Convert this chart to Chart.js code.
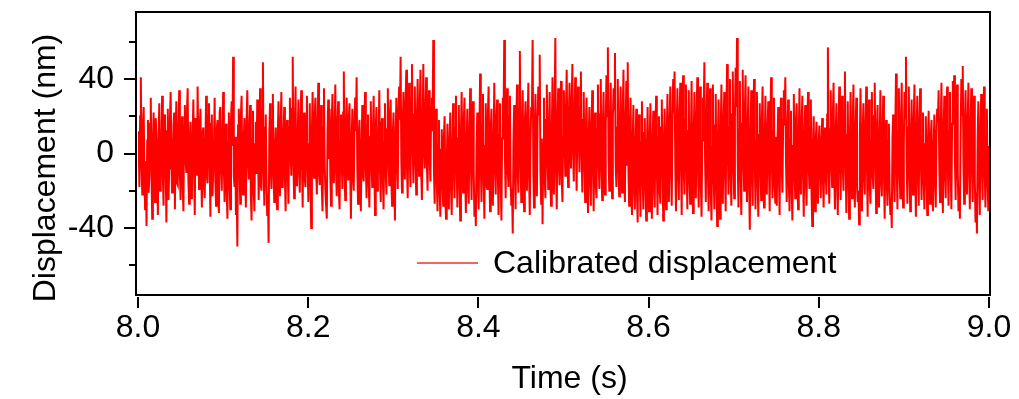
<!DOCTYPE html>
<html>
<head>
    <title>Calibrated displacement</title>
    <script src="https://cdn.jsdelivr.net/npm/chart.js"></script>
    <style>
        body { margin: 0; background: #fff; }
    </style>
</head>
<body>
    <canvas id="dispChart" width="1019" height="399"></canvas>

    <script>
        // displacement in nm in four quarters of the 8.0 - 9.0 s window
        const dispA = [
            12,3,-18,20,41,-6,-22,14,25,-11,-30,-4,-39,7,18,-21,-12,16,30,-9,-35,5,22,-15,-26,19,8,-2,-33,10,
            27,-20,-14,6,31,-13,-28,21,19,-8,-37,12,24,-25,-8,18,33,1,-21,-7,15,22,-30,9,28,-16,-17,13,34,-11,
            -25,4,20,-17,-31,15,26,-3,-10,23,35,-14,-27,8,17,-24,-22,10,29,-6,-33,19,11,-12,36,2,-19,14,24,-9,
            -29,11,14,-18,-24,7,31,-12,-16,20,27,-5,-34,16,21,-23,-9,3,30,-15,-28,13,18,-10,-32,22,25,-7,-20,9,
            33,-8,-26,12,16,-21,-35,6,22,-16,-30,18,28,4,52,-12,-18,9,-33,-20,-50,15,24,-3,-27,21,31,-14,-22,8,
            19,-10,-29,17,34,-4,-14,12,26,-22,-36,8,23,-19,-31,5,17,-11,29,13,-25,-6,35,-17,-20,24,49,-9,-28,14,
            21,-15,-33,-22,-48,10,27,-7,-19,18,32,-12,-26,3,14,-20,-30,11,28,-5,-23,16,33,-18,-17,9,25,-13,-31,6,
            18,-9,-27,14,30,2,-12,24,52,-6,-24,13,36,-17,-15,8,29,-11,-21,19,34,-4,-29,10,22,-14,-18,20,31,-7,
            -26,5,27,-16,-40,12,33,-2,-13,21,30,-9,-22,15,38,-11,-17,7,26,-19,-31,14,35,-6,-20,-28,-35,11,29,-3,
            24,-12,-28,18,32,-5,-16,13,37,-9,-23,16,28,-20,-30,7,21,-4,-19,22,44,-11,-25,14,30,-2,-14,19,27,-10
        ];
        const dispB = [
            -35,6,24,-13,-20,17,30,12,41,-8,-27,10,18,-19,-31,4,26,-12,-15,20,33,-7,-24,15,21,-16,-29,9,28,-5,
            -18,11,31,-4,-33,14,25,-20,-12,8,34,-10,-26,16,19,-14,-30,6,27,-8,-22,13,35,-3,-17,21,29,-15,-28,10,
            22,-12,-36,9,30,-5,-19,24,36,18,52,-3,-21,15,33,2,-14,27,45,-8,-24,20,38,-6,-18,30,48,4,-16,21,
            36,-4,-22,19,40,8,-12,26,45,-9,-25,14,48,3,-8,22,41,-6,-20,17,34,-2,-15,25,30,12,61,-10,-27,16,
            24,-14,-31,5,18,-20,-34,2,13,-16,-28,9,20,-24,-35,-6,16,-11,-30,7,22,-18,-33,3,27,-9,-24,14,31,-7,
            -29,8,26,-15,-36,11,33,-6,-21,17,30,-13,-32,5,24,-18,-27,12,35,-4,-25,19,28,-10,-34,-22,-39,3,22,-16,
            -30,9,43,-7,-26,15,32,-12,-35,4,27,-17,-19,21,36,-8,-31,13,24,-14,-28,6,38,-5,-22,18,29,-11,-33,10,
            27,-13,-36,8,30,16,61,-2,-24,12,35,-9,-18,20,31,-15,-28,-19,-43,7,26,-6,-30,14,37,-10,-21,24,55,-4,
            -26,11,34,-8,-31,16,28,-5,-20,19,38,-12,-33,6,25,22,61,-9,-29,13,32,-4,-23,17,36,21,53,-10,-27,8,
            -38,5,30,-12,-24,18,37,-3,-19,14,33,-16,-28,11,41,-7,-22,26,62,-9,-30,15,35,-6,-17,20,39,-13,-26,9
        ];
        const dispC = [
            34,10,-12,22,45,4,-18,19,38,13,-8,27,48,2,-15,21,41,6,-20,15,36,11,-10,25,44,1,-21,18,33,-5,
            -26,12,30,-9,-32,8,25,-14,-28,15,34,-6,-31,10,22,-17,-24,13,37,-2,-19,21,40,-8,-25,16,33,-11,-22,14,
            42,20,57,-3,-20,11,38,-7,-24,18,35,24,54,-5,-18,14,40,-9,-23,17,36,-4,-21,22,45,-12,-26,15,39,-6,
            49,-10,-28,13,30,-16,-33,7,26,-19,-30,4,24,-21,-37,9,21,-14,-34,6,28,-12,-30,11,19,-18,-36,3,25,-15,
            -31,8,27,-13,-35,5,23,-17,-29,12,31,-6,-33,9,20,-20,-27,14,29,-8,-36,3,24,-15,-30,10,32,-4,-26,16,
            36,-9,-28,17,40,22,44,-6,-31,13,35,-11,-25,20,38,-3,-33,15,42,-10,-22,18,37,-7,-30,12,34,-14,-27,8,
            39,-12,-32,10,33,-5,-24,19,41,-8,-29,14,36,-16,-34,7,30,23,49,-4,-26,16,38,-11,-31,9,35,-20,-36,4,
            37,-8,-30,15,32,-18,-39,6,29,-13,-35,10,37,-5,-27,17,33,-9,-31,20,48,2,-22,14,40,-11,-28,21,44,-6,
            -24,18,46,25,62,-4,-29,13,39,-10,-33,16,45,-2,-20,22,42,-7,-26,12,36,-17,-41,5,34,-9,-28,19,40,-3,
            -30,7,33,-14,-34,10,27,-6,-25,17,36,-11,-29,4,31,-15,-22,13,28,-8,-31,16,41,-3,-24,12,30,-17,-27,9
        ];
        const dispD = [
            -28,6,25,-12,-33,14,30,-7,-21,18,34,15,41,-5,-26,11,29,-16,-31,8,23,-20,-36,4,32,-9,-24,17,27,-13,
            -30,10,35,-4,-22,16,31,-11,-34,7,26,-15,-28,12,33,-6,-19,14,29,-22,-39,3,20,-13,-31,8,17,-10,-27,5,
            15,-9,-24,6,19,-14,-29,2,14,-12,-22,21,57,-8,-27,13,34,-5,-18,20,38,-11,-30,9,27,-16,-33,12,36,-4,
            -25,14,31,-7,-20,23,44,-3,-32,10,28,-15,-35,6,33,-12,-24,16,37,-9,-29,11,30,-17,-26,-20,-38,8,35,-6,
            -31,9,27,-13,-22,15,36,-5,-34,11,29,-18,-27,7,33,-10,-19,20,38,-4,-32,12,26,-14,-29,8,34,-16,-23,13,
            31,-11,-35,4,18,-16,-28,7,16,-19,-33,-24,-40,9,21,-13,-26,15,43,-6,-30,12,35,-8,-24,17,38,-10,-29,6,
            33,19,52,-5,-27,14,36,-9,-31,8,29,-14,-22,18,37,-7,-34,10,31,-12,-28,16,35,-3,-25,9,22,-15,-30,5,
            20,-12,-33,6,23,-10,-27,9,18,-15,-31,3,21,-14,-29,11,24,17,34,-8,-26,13,38,-5,-32,10,31,-11,-24,14,
            36,-7,-28,12,33,-9,-30,16,39,24,42,-4,-25,13,37,-10,-31,-18,-35,8,40,21,47,-6,-27,15,34,-12,-22,17,
            38,-9,-30,13,35,-5,-26,16,31,-14,-37,-21,-43,7,28,-11,-33,12,32,-6,-25,18,36,-10,-29,9,24,-15,-31,4
        ];

        const tStart = 8.0;
        const tEnd = 9.0;
        const xTicks = [8.0, 8.2, 8.4, 8.6, 8.8, 9.0];
        const yMajor = [-40, 0, 40];
        const yMinor = [-60, -20, 20, 60];

        const disp = dispA.concat(dispB, dispC, dispD);
        const points = disp.map((v, i) => ({
            x: tStart + (tEnd - tStart) * i / (disp.length - 1),
            y: v
        }));

        const FONT = '"Liberation Sans", Arial, sans-serif';

        // frame, tick marks, axis titles and the in-plot legend
        const decorations = {
            id: 'decorations',
            afterDraw(chart) {
                const { ctx, chartArea: a, scales: { x, y } } = chart;
                ctx.save();
                ctx.strokeStyle = '#000';
                ctx.lineWidth = 2;
                ctx.strokeRect(a.left - 2, a.top, a.right - a.left + 3, a.bottom - a.top);

                ctx.beginPath();
                yMajor.forEach(v => {
                    const py = Math.round(y.getPixelForValue(v));
                    ctx.moveTo(a.left - 14, py);
                    ctx.lineTo(a.left - 2, py);
                });
                yMinor.forEach(v => {
                    const py = Math.round(y.getPixelForValue(v));
                    ctx.moveTo(a.left - 9, py);
                    ctx.lineTo(a.left - 2, py);
                });
                xTicks.forEach(v => {
                    const px = Math.round(x.getPixelForValue(v));
                    ctx.moveTo(px, a.bottom + 2);
                    ctx.lineTo(px, a.bottom + 13);
                });
                ctx.stroke();

                ctx.fillStyle = '#000';
                ctx.font = '32px ' + FONT;
                ctx.textAlign = 'center';
                ctx.textBaseline = 'alphabetic';
                ctx.fillText('Time (s)', (a.left + a.right) / 2 + 6, 388);

                ctx.save();
                ctx.translate(55, 168);
                ctx.rotate(-Math.PI / 2);
                ctx.fillText('Displacement (nm)', 0, 0);
                ctx.restore();

                // legend inside the plot
                ctx.strokeStyle = '#f03030';
                ctx.lineWidth = 1.5;
                ctx.beginPath();
                ctx.moveTo(417, 263);
                ctx.lineTo(478, 263);
                ctx.stroke();
                ctx.textAlign = 'left';
                ctx.textBaseline = 'middle';
                ctx.fillText(chart.data.datasets[0].label, 493, 264);
                ctx.restore();
            }
        };

        const ctx = document.getElementById('dispChart').getContext('2d');
        new Chart(ctx, {
            type: 'line',
            data: {
                datasets: [{
                    label: 'Calibrated displacement',
                    data: points,
                    borderColor: '#ff0000',
                    borderWidth: 2,
                    pointRadius: 0,
                    tension: 0,
                    fill: false
                }]
            },
            options: {
                responsive: false,
                animation: false,
                devicePixelRatio: 1,
                layout: { padding: { top: 12, right: 30, left: 0, bottom: 0 } },
                plugins: {
                    legend: { display: false },
                    tooltip: { enabled: false }
                },
                scales: {
                    x: {
                        type: 'linear',
                        min: tStart,
                        max: tEnd,
                        grid: { display: false, drawTicks: false },
                        border: { display: false },
                        afterBuildTicks: s => { s.ticks = xTicks.map(v => ({ value: v })); },
                        afterFit: s => {
                            s.height = 104;
                            s.paddingLeft = 0;
                            s.paddingRight = 0;
                        },
                        ticks: {
                            color: '#000',
                            padding: 14,
                            maxRotation: 0,
                            font: { family: FONT, size: 32 },
                            callback: v => v.toFixed(1)
                        }
                    },
                    y: {
                        min: -76,
                        max: 76,
                        grid: { display: false, drawTicks: false },
                        border: { display: false },
                        afterBuildTicks: s => { s.ticks = yMajor.map(v => ({ value: v })); },
                        afterFit: s => {
                            s.width = 138;
                            s.paddingTop = 0;
                            s.paddingBottom = 0;
                        },
                        ticks: {
                            color: '#000',
                            padding: 24,
                            font: { family: FONT, size: 32 },
                            callback: v => String(v)
                        }
                    }
                }
            },
            plugins: [decorations]
        });
    </script>
</body>
</html>
